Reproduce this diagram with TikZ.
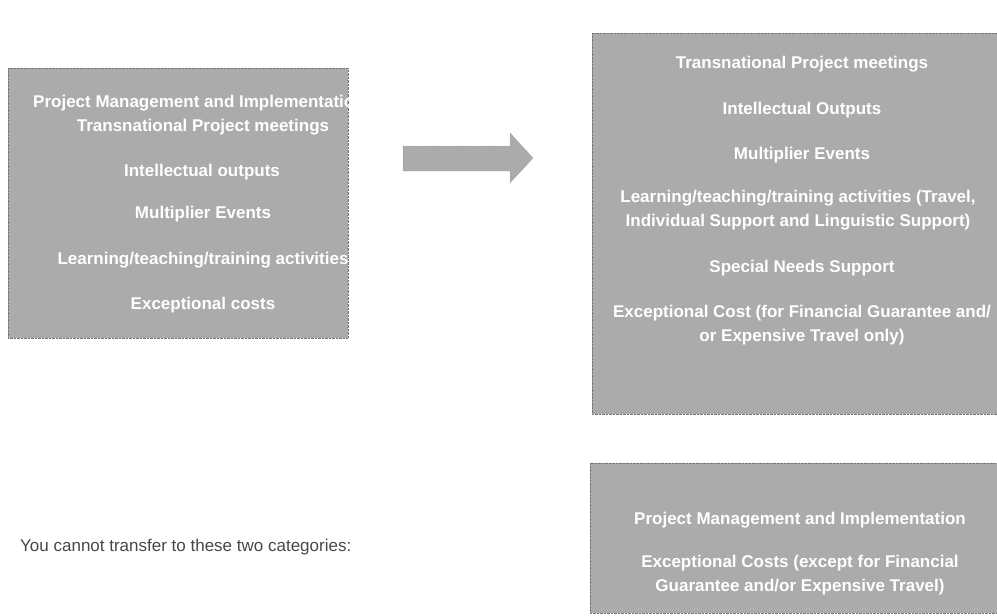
\documentclass[tikz,border=0pt]{standalone}
\usepackage{fontspec}
\setmainfont{Liberation Sans}
\begin{document}
\begin{tikzpicture}[x=1pt,y=-1pt,
  panel/.style={draw=black!55,densely dotted,fill=black!33},
  item/.style={text=white,font=\fontsize{17}{24}\selectfont\bfseries,align=center,inner sep=0pt},
  plain/.style={text=black!72,font=\fontsize{17}{20}\selectfont,inner sep=0pt,anchor=west}]
\useasboundingbox (0,0) rectangle (997,616);
% panels
\path[panel] (8,68) rectangle (348,338);
\path[panel] (592,33) rectangle (997,414);
\path[panel] (590,463) rectangle (997,613);
% arrow
\path[panel] (403,146) -- (510,146) -- (510,133) -- (533,158) -- (510,183) -- (510,171) -- (403,171) -- cycle;
% left panel
\begin{scope}
\clip (8,68) rectangle (348,338);
\node[item,anchor=west] (l1) at (33,103) {Project Management and Implementation};
\end{scope}
\node[item] (l2) at (203,127) {Transnational Project meetings};
\node[item] (l3) at (202,172) {Intellectual outputs};
\node[item] (l4) at (203,214) {Multiplier Events};
\node[item] (l5) at (203,260) {Learning/teaching/training activities};
\node[item] (l6) at (203,305) {Exceptional costs};
% right panel
\node[item] (r1) at (802,64) {Transnational Project meetings};
\node[item] (r2) at (802,110) {Intellectual Outputs};
\node[item] (r3) at (802,155) {Multiplier Events};
\node[item] (r4) at (798,210) {Learning/teaching/training activities (Travel,\\Individual Support and Linguistic Support)};
\node[item] (r5) at (802,268) {Special Needs Support};
\node[item] (r6) at (802,325) {Exceptional Cost (for Financial Guarantee and/\\or Expensive Travel only)};
% bottom panel
\node[item] (b1) at (800,520) {Project Management and Implementation};
\node[item] (b2) at (800,575) {Exceptional Costs (except for Financial\\Guarantee and/or Expensive Travel)};
% caption
\node[plain] (cap) at (20,547) {You cannot transfer to these two categories:};
\end{tikzpicture}
\end{document}
